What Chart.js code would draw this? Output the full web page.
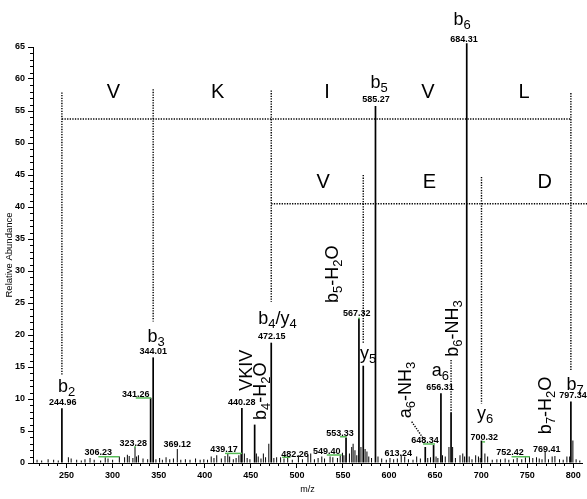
<!DOCTYPE html>
<html><head><meta charset="utf-8">
<script src="https://cdn.jsdelivr.net/npm/chart.js@4.4.0/dist/chart.umd.min.js"></script>
<style>html,body{margin:0;padding:0;background:#fff}canvas{display:block}</style>
</head><body>
<canvas id="c" width="587" height="499"></canvas>
<script>
// ---------- DATA ----------
const mainMz = [244.96, 341.26, 344.01, 440.28, 454.15, 472.15, 553.33, 567.32, 572.0, 585.27, 639.3, 648.34, 656.31, 667.3, 684.31, 700.32, 797.34];
const mainAb = [8.55, 10.2, 16.5, 8.6, 6.0, 18.8, 4.0, 22.6, 15.2, 55.8, 2.5, 2.8, 10.9, 7.8, 65.6, 3.5, 9.6];

const minorMz = [218,223,230,236,241,252,255,261,266,270,275.5,280,287,292,295,300,307.3,313,316,318,322,324.3,326,328,333,338,347,351,354,358,362,366,370.2,374,379,384,390,395,399,403,407,410,413,418,422,425,427,431,434,437,439.2,443,446,449,456,458,461,463.6,466,469.5,475,478,482.3,486,490,495,501.6,506,512,515,519,523,527,530,536,539,544,547,549.4,551,557,559.5,561,563,565,569.5,574,576,578,581,588,592,597,601,605,609,613.2,617,621,626,630,634,642,645,651,653,658,661,665,669,672,677,680,682,687,690,694,697,699,704,707,712,717,721,726,730,735,739,744,748,752.4,756,760,763,766,769.4,773,777,780,785,789,793,796,799.5,803,807];
const minorAb = [0.5,0.4,0.6,0.5,0.4,0.9,0.7,0.5,0.4,0.6,0.8,0.5,0.4,0.9,0.7,0.5,1.0,0.9,1.3,1.1,0.8,2.5,1.0,1.2,0.7,0.6,0.6,0.8,0.5,0.9,0.6,0.7,2.2,0.5,0.6,0.5,0.7,0.5,0.6,0.5,1.0,0.8,1.2,0.7,1.1,1.5,1.0,0.6,0.8,1.2,1.5,1.5,0.8,0.6,1.5,1.0,0.7,1.5,0.9,3.0,0.8,0.9,0.9,0.7,0.8,0.5,1.2,0.6,1.2,1.5,0.6,0.8,1.0,0.7,1.0,0.9,0.8,1.2,1.6,1.2,1.5,2.5,3.0,2.0,1.2,2.5,2.2,1.8,1.0,0.8,1.0,0.7,0.5,0.8,0.6,0.7,1.2,1.0,0.6,0.5,1.0,0.7,0.8,0.9,1.0,0.8,1.2,1.0,2.5,2.5,0.8,1.2,1.5,1.0,1.0,0.6,1.2,1.0,0.8,1.5,1.0,0.5,0.6,0.6,0.7,0.5,0.6,0.8,0.6,0.9,1.0,0.8,0.9,0.7,0.6,1.7,0.6,1.0,1.1,0.6,0.5,1.0,1.0,3.5,0.6,0.4];

const xTickLabels = [250,300,350,400,450,500,550,600,650,700,750,800];
const yTickLabels = [0,5,10,15,20,25,30,35,40,45,50,55,60,65];

// text annotations (anchored in m/z, abundance units)
const seqLetters = [
  {t:'V', mz:300.8, ab:57.1}, {t:'K', mz:413.9, ab:57.1}, {t:'I', mz:532.7, ab:57.1},
  {t:'V', mz:642.3, ab:57.1}, {t:'L', mz:746.5, ab:57.1},
  {t:'V', mz:528.4, ab:42.9}, {t:'E', mz:643.9, ab:42.9}, {t:'D', mz:769.0, ab:42.9}
];
const ionLabels = [
  {parts:[['b',0],['2',1]], mz:250.0, ab:11.1},
  {parts:[['b',0],['3',1]], mz:347.1, ab:18.95},
  {parts:[['b',0],['4',1],['/y',0],['4',1]], mz:479.0, ab:21.7},
  {parts:[['b',0],['5',1]], mz:589.1, ab:58.6},
  {parts:[['b',0],['6',1]], mz:679.2, ab:68.4},
  {parts:[['y',0],['5',1]], mz:577.2, ab:16.2},
  {parts:[['a',0],['6',1]], mz:655.8, ab:13.6},
  {parts:[['y',0],['6',1]], mz:704.2, ab:6.8},
  {parts:[['b',0],['7',1]], mz:801.8, ab:11.4}
];
const rotLabels = [
  {parts:[['VKIV',0]], mz:451.3, ab:14.5},
  {parts:[['b',0],['4',1],['-H',0],['2',1],['O',0]], mz:466.5, ab:11.2},
  {parts:[['b',0],['5',1],['-H',0],['2',1],['O',0]], mz:544.9, ab:29.5},
  {parts:[['b',0],['6',1],['-NH',0],['3',1]], mz:674.9, ab:21.0},
  {parts:[['a',0],['6',1],['-NH',0],['3',1]], mz:624.2, ab:11.4},
  {parts:[['b',0],['7',1],['-H',0],['2',1],['O',0]], mz:776.1, ab:9.0}
];
const peakNumbers = [
  {t:'244.96', mz:245.9, ab:9.06}, {t:'344.01', mz:344.2, ab:17.0}, {t:'341.26', mz:325.1, ab:10.36},
  {t:'472.15', mz:472.7, ab:19.33}, {t:'440.28', mz:440.1, ab:9.06}, {t:'585.27', mz:585.9, ab:56.4},
  {t:'684.31', mz:681.4, ab:65.8}, {t:'567.32', mz:564.9, ab:23.0}, {t:'656.31', mz:655.3, ab:11.4},
  {t:'700.32', mz:703.4, ab:3.6}, {t:'797.34', mz:799.6, ab:10.2}, {t:'306.23', mz:284.5, ab:1.25},
  {t:'323.28', mz:322.5, ab:2.66}, {t:'369.12', mz:370.2, ab:2.55}, {t:'439.17', mz:420.9, ab:1.77},
  {t:'482.26', mz:498.0, ab:0.98}, {t:'549.40', mz:532.4, ab:1.4}, {t:'553.33', mz:546.8, ab:4.27},
  {t:'613.24', mz:610.0, ab:1.1}, {t:'648.34', mz:639.0, ab:3.08}, {t:'752.42', mz:731.3, ab:1.25},
  {t:'769.41', mz:771.1, ab:1.77}
];
// green marks: [mz start, mz end, abundance]
const greenMarks = [
  [284.5,307.3,0.98],[325.1,341.7,10.16],[323.3,325.4,2.5],[422.0,440.4,1.5],[484.0,493.0,0.9],
  [532.4,548.6,1.25],[546.8,554.0,4.1],[566.5,568.5,22.6],[636.9,649.9,2.97],[700.9,704.2,3.3],[733.0,753.0,0.98]
];
// dotted sequence / guide lines: [[mz,ab],[mz,ab]]
const dottedLines = [
  [[244.96,53.75],[797.34,53.75]],
  [[472.15,40.5],[815,40.5]],
  [[244.96,57.9],[244.96,13.75]],
  [[344.01,58.4],[344.01,22.1]],
  [[472.15,58.2],[472.15,25.2]],
  [[797.34,57.8],[797.34,14.5]],
  [[572.0,45.0],[572.0,18.7]],
  [[700.32,44.7],[700.32,9.3]],
  [[667.3,16.1],[667.3,7.8]],
  [[624.6,6.45],[639.6,3.33]]
];

// ---------- CHART ----------
const FAM = '"Liberation Sans", Arial, Helvetica, sans-serif';

function drawRich(ctx, parts, cx, cy, rot){
  const big = '18px ' + FAM, small = '13px ' + FAM;
  let w = 0;
  parts.forEach(([t,s]) => { ctx.font = s ? small : big; w += ctx.measureText(t).width; });
  ctx.save();
  ctx.translate(cx, cy);
  ctx.rotate(rot);
  ctx.textAlign = 'left';
  ctx.textBaseline = 'alphabetic';
  let u = -w/2;
  parts.forEach(([t,s]) => {
    ctx.font = s ? small : big;
    ctx.fillText(t, u, s ? 4 : 0);
    u += ctx.measureText(t).width;
  });
  ctx.restore();
}

const annot = {
  id: 'annot',
  afterDraw(chart){
    const {ctx, scales:{x, y}, chartArea} = chart;
    ctx.save();
    ctx.fillStyle = '#000';
    ctx.strokeStyle = '#000';
    // minor ticks
    ctx.lineWidth = 1;
    ctx.beginPath();
    for (let m = 220; m < 810; m += 10) {
      if (m % 50 === 0) continue;
      const px = Math.round(x.getPixelForValue(m)) + 0.5;
      ctx.moveTo(px, chartArea.bottom); ctx.lineTo(px, chartArea.bottom + 3);
    }
    for (let v = 1; v < 65; v++) {
      if (v % 5 === 0) continue;
      const py = Math.round(y.getPixelForValue(v)) + 0.5;
      ctx.moveTo(chartArea.left - 3, py); ctx.lineTo(chartArea.left, py);
    }
    ctx.stroke();
    // sequence letters
    ctx.textAlign = 'center';
    ctx.textBaseline = 'alphabetic';
    ctx.font = '20px ' + FAM;
    seqLetters.forEach(l => ctx.fillText(l.t, x.getPixelForValue(l.mz), y.getPixelForValue(l.ab)));
    // peak m/z numbers
    ctx.font = 'bold 9px ' + FAM;
    peakNumbers.forEach(l => ctx.fillText(l.t, x.getPixelForValue(l.mz), y.getPixelForValue(l.ab)));
    // ion labels
    ionLabels.forEach(l => drawRich(ctx, l.parts, x.getPixelForValue(l.mz), y.getPixelForValue(l.ab), 0));
    rotLabels.forEach(l => drawRich(ctx, l.parts, x.getPixelForValue(l.mz), y.getPixelForValue(l.ab), -Math.PI/2));
    ctx.restore();
  }
};

const datasets = [];
dottedLines.forEach(seg => datasets.push({
  type: 'line',
  data: seg.map(p => ({x:p[0], y:p[1]})),
  borderColor: '#000', borderWidth: 1.4, borderDash: [1.3, 1.3],
  pointRadius: 0, tension: 0, clip: false, fill: false
}));
greenMarks.forEach(g => datasets.push({
  type: 'line',
  data: [{x:g[0], y:g[2]}, {x:g[1], y:g[2]}],
  borderColor: '#55bb55', borderWidth: 1.5,
  pointRadius: 0, tension: 0, clip: false, fill: false
}));
datasets.push({
  type: 'bar',
  data: minorMz.map((m,i) => ({x:m, y:minorAb[i]})),
  backgroundColor: '#000', barThickness: 1, grouped: false, inflateAmount: 0, borderWidth: 0
});
datasets.push({
  type: 'bar',
  data: mainMz.map((m,i) => ({x:m, y:mainAb[i]})),
  backgroundColor: '#000', barThickness: 1.7, grouped: false, inflateAmount: 0, borderWidth: 0, clip: false
});

new Chart(document.getElementById('c'), {
  type: 'bar',
  data: { datasets },
  options: {
    responsive: false,
    animation: false,
    devicePixelRatio: 1,
    layout: { padding: { top: 47, right: 5, left: 0, bottom: 0 } },
    plugins: { legend: {display:false}, tooltip: {enabled:false} },
    scales: {
      x: {
        type: 'linear', min: 213.6, max: 809.4, offset: false,
        afterBuildTicks: s => { s.ticks = xTickLabels.map(v => ({value:v})); },
        afterFit: s => { s.height = 36; },
        grid: { display: true, drawOnChartArea: false, drawTicks: true, tickLength: 5, color: '#000', lineWidth: 1, offset: false },
        border: { display: true, color: '#000', width: 1 },
        ticks: { color: '#000', font: { family: FAM, size: 9, weight: 'bold' }, padding: 2, maxRotation: 0, autoSkip: false },
        title: { display: true, text: 'm/z', color: '#000', font: { family: FAM, size: 9 }, padding: { top: 0, bottom: 4 } }
      },
      y: {
        type: 'linear', min: 0, max: 65,
        afterBuildTicks: s => { s.ticks = yTickLabels.map(v => ({value:v})); },
        afterFit: s => { s.width = 33; },
        grid: { display: true, drawOnChartArea: false, drawTicks: true, tickLength: 5, color: '#000', lineWidth: 1 },
        border: { display: true, color: '#000', width: 1 },
        ticks: { color: '#000', font: { family: FAM, size: 9, weight: 'bold' }, padding: 3, autoSkip: false },
        title: { display: true, text: 'Relative Abundance', color: '#000', font: { family: FAM, size: 9.5 }, padding: { top: 4, bottom: 0 } }
      }
    }
  },
  plugins: [annot]
});
</script>
</body></html>
